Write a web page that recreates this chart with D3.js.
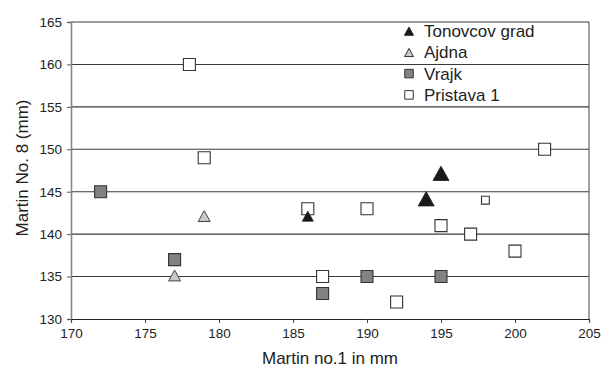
<!DOCTYPE html>
<html><head><meta charset="utf-8">
<script src="https://cdn.jsdelivr.net/npm/d3@7"></script>
<style>body{margin:0;background:#fff}svg{display:block}text{font-family:"Liberation Sans",Arial,sans-serif}</style>
</head><body><svg id="c" width="602" height="372"></svg>
<script>
const xTicks = [170,175,180,185,190,195,200,205];
const yTicks = [130,135,140,145,150,155,160,165];
const seriesNames = ["Tonovcov grad","Ajdna","Vrajk","Pristava 1"];
const tonovcovX = [186,194,195];
const tonovcovY = [142,144,147];
const ajdnaX = [177,179];
const ajdnaY = [135,142];
const vrajkX = [172,177,187,190,195];
const vrajkY = [145,137,133,135,135];
const pristavaX = [178,179,186,187,190,192,195,197,198,200,202];
const pristavaY = [160,149,143,135,143,132,141,140,144,138,150];

// marker emphasis (visual style): larger Tonovcov markers, smaller one Pristava marker
const tonovcovSize = [1,1.45,1.45];
const pristavaSize = [1,1,1,1,1,1,1,1,0.65,1,1];

const svg = d3.select("#c");
const x = d3.scaleLinear().domain([170,205]).range([71,589]);
const y = d3.scaleLinear().domain([130,165]).range([319,22]);
const FONT = "'Liberation Sans',Arial,sans-serif";

// gridlines
svg.append("g").selectAll("line").data(yTicks.slice(1)).join("line")
  .attr("x1",71).attr("x2",589).attr("y1",d=>y(d)).attr("y2",d=>y(d))
  .attr("stroke","#3a3a3a").attr("stroke-width",1.1);
// right border
svg.append("line").attr("x1",589).attr("x2",589).attr("y1",22).attr("y2",319).attr("stroke","#555").attr("stroke-width",1.1);

// y axis
const ya = svg.append("g").attr("transform","translate(71,0)")
  .call(d3.axisLeft(y).tickValues(yTicks).tickSize(4).tickPadding(5));
ya.select(".domain").attr("stroke","#888").attr("stroke-width",1.6);
ya.selectAll(".tick line").attr("stroke","#555");
ya.selectAll("text").attr("font-size",13.5).attr("fill","#222").attr("font-family",FONT);

// x axis
const xa = svg.append("g").attr("transform","translate(0,319)")
  .call(d3.axisBottom(x).tickValues(xTicks).tickSize(4).tickPadding(5));
xa.select(".domain").attr("stroke","#222").attr("stroke-width",1.1);
xa.selectAll(".tick line").attr("stroke","#444");
xa.selectAll("text").attr("font-size",13.5).attr("fill","#222").attr("font-family",FONT);

// titles
svg.append("text").attr("x",330).attr("y",364).attr("text-anchor","middle")
  .attr("font-size",17).attr("fill","#222").text("Martin no.1 in mm");
svg.append("text").attr("transform","translate(28,168) rotate(-90)").attr("text-anchor","middle")
  .attr("font-size",17).attr("fill","#222").text("Martin No. 8 (mm)");

function tri(s){ // s = width
  const h = s*0.9;
  return `M0,${-h*0.6}L${s/2},${h*0.4}L${-s/2},${h*0.4}Z`;
}
function sq(s){ return `M${-s/2},${-s/2}h${s}v${s}h${-s}Z`; }

const pts = svg.append("g");
// Pristava
pts.selectAll(".p").data(pristavaX.map((d,i)=>({x:d,y:pristavaY[i],s:pristavaSize[i]}))).join("path")
  .attr("transform",d=>`translate(${x(d.x)},${y(d.y)})`).attr("d",d=>sq(12*d.s))
  .attr("fill","#fff").attr("stroke","#333").attr("stroke-width",1.1);
// Vrajk
pts.selectAll(".v").data(vrajkX.map((d,i)=>({x:d,y:vrajkY[i]}))).join("path")
  .attr("transform",d=>`translate(${x(d.x)},${y(d.y)})`).attr("d",sq(12))
  .attr("fill","#828282").attr("stroke","#333").attr("stroke-width",1.1);
// Ajdna
pts.selectAll(".a").data(ajdnaX.map((d,i)=>({x:d,y:ajdnaY[i]}))).join("path")
  .attr("transform",d=>`translate(${x(d.x)},${y(d.y)})`).attr("d",tri(12))
  .attr("fill","#c8c8c8").attr("stroke","#444").attr("stroke-width",1);
// Tonovcov
pts.selectAll(".t").data(tonovcovX.map((d,i)=>({x:d,y:tonovcovY[i],s:tonovcovSize[i]}))).join("path")
  .attr("transform",d=>`translate(${x(d.x)},${y(d.y)})`).attr("d",d=>tri(11*d.s))
  .attr("fill","#1a1a1a").attr("stroke","#1a1a1a").attr("stroke-width",0.8);

// legend
const legFills = ["#1a1a1a","#c8c8c8","#828282","#fff"];
const leg = svg.append("g").attr("transform","translate(409,31)");
seriesNames.forEach((n,i)=>{
  const g = leg.append("g").attr("transform",`translate(0,${i*21.3})`);
  g.append("path").attr("d", i<2 ? tri(9) : sq(8.5)).attr("transform", i<2?"translate(0,1)":"translate(0,0)")
    .attr("fill",legFills[i]).attr("stroke", i==0?"#1a1a1a":"#333").attr("stroke-width",1);
  g.append("text").attr("x",15).attr("y",6).attr("font-size",17).attr("fill","#222").text(n);
});
</script></body></html>
